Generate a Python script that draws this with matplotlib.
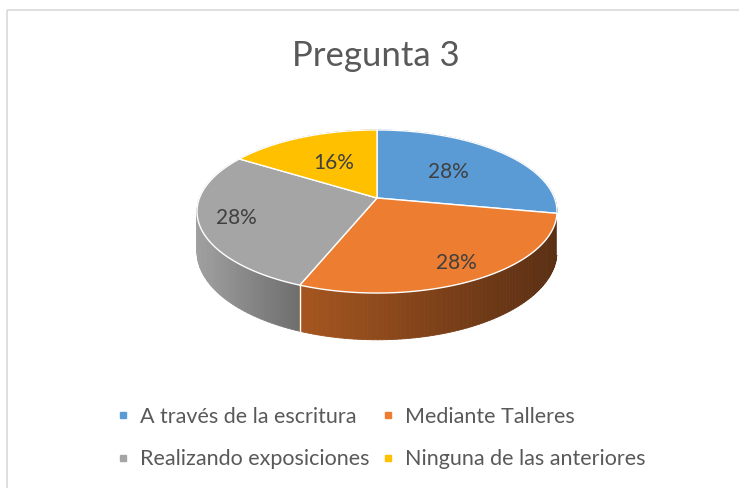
import numpy as np
import matplotlib
matplotlib.use('Agg')
import matplotlib.pyplot as plt
from matplotlib.collections import PolyCollection
from matplotlib.patches import Rectangle, Polygon
from matplotlib.lines import Line2D

# data
categories = ['A través de la escritura', 'Mediante Talleres',
              'Realizando exposiciones', 'Ninguna de las anteriores']
values = [28, 28, 28, 16]
title = 'Pregunta 3'

top_colors = ['#5B9BD5', '#ED7D31', '#A5A5A5', '#FFC000']
side_light = ['#4A7DB0', '#A6561F', '#A0A0A0', '#C99A00']
side_dark = ['#2E5580', '#5A2F14', '#6E6E6E', '#8A6A00']
label_r = [0.55, 0.82, 0.80, 0.55]

plt.rcParams['font.family'] = ['Lato', 'DejaVu Sans']

# pie geometry (pixels), simple perspective
cx, cy = 377, 198
a, b, k = 177.5, 79.3, 0.1656
depth = 39


def proj(theta, r=1.0, drop=0.0):
    t = np.radians(theta)
    u = r * np.sin(t)
    v = r * np.cos(t)
    w = 1.0 / (1 + k * v)
    return cx + a * u * w, cy - b * v * w + drop * w


def mix(c1, c2, t):
    c1 = np.array(matplotlib.colors.to_rgb(c1))
    c2 = np.array(matplotlib.colors.to_rgb(c2))
    return tuple(c1 + (c2 - c1) * t)


fig = plt.figure(figsize=(7.39, 4.88), dpi=100)
ax = fig.add_axes([0, 0, 1, 1])
ax.set_xlim(0, 739)
ax.set_ylim(488, 0)
ax.axis('off')

ax.add_patch(Rectangle((6.5, 9.5), 800, 600, fill=False, edgecolor='#D9D9D9', lw=1.2))

fracs = np.array(values) / np.sum(values)
edges = np.concatenate([[0], np.cumsum(fracs) * 360])

# side walls, drawn far to near
segs = []
for i in range(len(values)):
    th = np.linspace(edges[i], edges[i + 1], 80)
    xs = proj(th)[0]
    front = np.cos(np.radians(th)) < -k
    if front.sum() > 1:
        x0, x1 = xs[front].min(), xs[front].max()
    else:
        x0, x1 = xs.min(), xs.max() + 1
    for j in range(len(th) - 1):
        p1 = proj(th[j]); p2 = proj(th[j + 1])
        p3 = proj(th[j + 1], drop=depth); p4 = proj(th[j], drop=depth)
        xm = 0.5 * (p1[0] + p2[0])
        t = np.clip((xm - x0) / (x1 - x0), 0, 1)
        c = mix(side_light[i], side_dark[i], t)
        vm = np.cos(np.radians(0.5 * (th[j] + th[j + 1])))
        segs.append((vm, [p1, p2, p3, p4], c))
segs.sort(key=lambda s: -s[0])
ax.add_collection(PolyCollection([s[1] for s in segs], facecolors=[s[2] for s in segs],
                                 edgecolors=[s[2] for s in segs], linewidths=0.6))

# white seams on the walls
for e in edges:
    if np.cos(np.radians(e)) < -k:
        xa, ya = proj(e)
        xb, yb = proj(e, drop=depth)
        ax.plot([xa, xb], [ya, yb], color='white', lw=1)

# top faces
for i in range(len(values)):
    th = np.linspace(edges[i], edges[i + 1], 120)
    xs, ys = proj(th)
    pts = np.column_stack([np.r_[cx, xs], np.r_[cy, ys]])
    ax.add_patch(Polygon(pts, closed=True, facecolor=top_colors[i],
                         edgecolor='white', lw=1, joinstyle='round'))

# data labels
for i, v in enumerate(values):
    mid = 0.5 * (edges[i] + edges[i + 1])
    lx, ly = proj(mid, r=label_r[i])
    ax.text(lx, ly, f'{v}%', ha='center', va='center', fontsize=15, color='#404040')

ax.text(376, 56, title, ha='center', va='center', fontsize=25, color='#595959')

order = [0, 2, 1, 3]
handles = [Line2D([], [], marker='s', ls='', markersize=5, color=top_colors[i]) for i in order]
ax.legend(handles, [categories[i] for i in order], ncol=2, frameon=False,
          loc='center', bbox_to_anchor=(381 / 739, 1 - 438 / 488),
          fontsize=15.5, labelcolor='#595959', handlelength=0.6, handletextpad=0.45,
          columnspacing=0.6, labelspacing=1.05)

fig.savefig('out.png', dpi=100)
